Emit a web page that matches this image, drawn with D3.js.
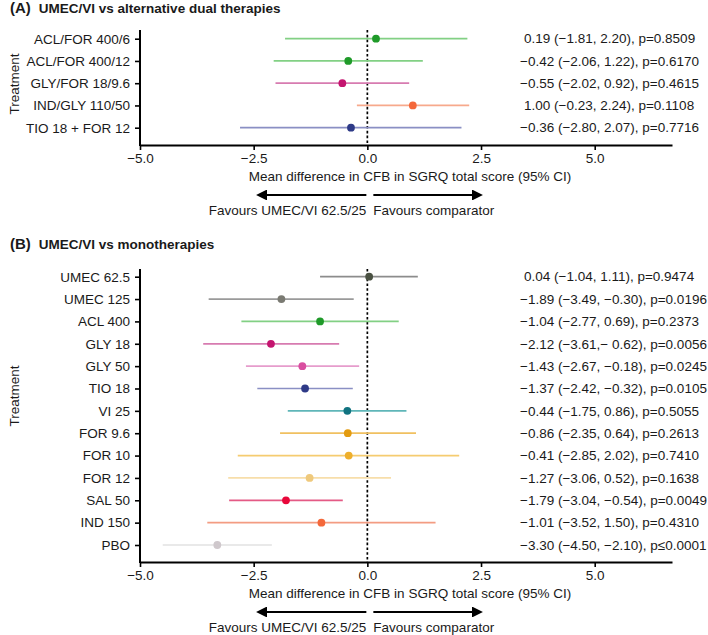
<!DOCTYPE html>
<html>
<head>
<meta charset="utf-8">
<script src="https://cdn.jsdelivr.net/npm/d3@7"></script>
<style>
    body { margin: 0; background: #fff; }
    svg text { font-family: "Liberation Sans", Arial, sans-serif; fill: #1a1a1a; }
</style>
</head>
<body>
<div class="forest"></div>
<script>
// panel A: UMEC/VI vs alternative dual therapies
const dualNames = ['ACL/FOR 400/6', 'ACL/FOR 400/12', 'GLY/FOR 18/9.6', 'IND/GLY 110/50', 'TIO 18 + FOR 12'];
const dualMean = [0.19, -0.42, -0.55, 1.00, -0.36];
const dualLow = [-1.81, -2.06, -2.02, -0.23, -2.80];
const dualHigh = [2.20, 1.22, 0.92, 2.24, 2.07];
const dualText = [
    '0.19 (\u22121.81, 2.20), p=0.8509',
    '\u22120.42 (\u22122.06, 1.22), p=0.6170',
    '\u22120.55 (\u22122.02, 0.92), p=0.4615',
    '1.00 (\u22120.23, 2.24), p=0.1108',
    '\u22120.36 (\u22122.80, 2.07), p=0.7716'
];

// panel B: UMEC/VI vs monotherapies
const monoNames = ['UMEC 62.5', 'UMEC 125', 'ACL 400', 'GLY 18', 'GLY 50', 'TIO 18', 'VI 25',
    'FOR 9.6', 'FOR 10', 'FOR 12', 'SAL 50', 'IND 150', 'PBO'];
const monoMean = [0.04, -1.89, -1.04, -2.12, -1.43, -1.37, -0.44, -0.43, -0.41, -1.27, -1.79, -1.01, -3.30];
const monoLow = [-1.04, -3.49, -2.77, -3.61, -2.67, -2.42, -1.75, -1.92, -2.85, -3.06, -3.04, -3.52, -4.50];
const monoHigh = [1.11, -0.30, 0.69, -0.62, -0.18, -0.32, 0.86, 1.07, 2.02, 0.52, -0.54, 1.50, -2.10];
const monoText = [
    '0.04 (\u22121.04, 1.11), p=0.9474',
    '\u22121.89 (\u22123.49, \u22120.30), p=0.0196',
    '\u22121.04 (\u22122.77, 0.69), p=0.2373',
    '\u22122.12 (\u22123.61,\u2212 0.62), p=0.0056',
    '\u22121.43 (\u22122.67, \u22120.18), p=0.0245',
    '\u22121.37 (\u22122.42, \u22120.32), p=0.0105',
    '\u22120.44 (\u22121.75, 0.86), p=0.5055',
    '\u22120.86 (\u22122.35, 0.64), p=0.2613',
    '\u22120.41 (\u22122.85, 2.02), p=0.7410',
    '\u22121.27 (\u22123.06, 0.52), p=0.1638',
    '\u22121.79 (\u22123.04, \u22120.54), p=0.0049',
    '\u22121.01 (\u22123.52, 1.50), p=0.4310',
    '\u22123.30 (\u22124.50, \u22122.10), p\u22640.0001'
];

const xTicks = [-5, -2.5, 0, 2.5, 5];

// colours (point, interval line)
const dualDot = ['#1f9a29', '#1f9a29', '#c4146f', '#f4683a', '#2e3a87'];
const dualLine = ['#82d084', '#82d084', '#d77bb0', '#f7a98c', '#8a8fc4'];
const monoDot = ['#4a5142', '#7a7a72', '#1f9a29', '#c4146f', '#d94ea0', '#2e3a87', '#117380',
    '#e39b0f', '#eeaf2c', '#efc97c', '#e8073a', '#f4683a', '#cfc8cc'];
const monoLine = ['#8c8c8c', '#9a9a9a', '#82d084', '#d77bb0', '#e69ccc', '#8a8fc4', '#5fb6b8',
    '#f0c060', '#f5cc70', '#f7deaa', '#e45a85', '#f39c82', '#e2e2e2'];

const width = 708;
const height = 635;
const fontSize = '13.5px';

const svg = d3.select('.forest')
    .append('svg')
    .attr('width', width)
    .attr('height', height);

// arrow head for the "favours" arrows
svg.append('defs')
    .append('marker')
    .attr('id', 'head')
    .attr('viewBox', '0 0 10 10')
    .attr('refX', 0)
    .attr('refY', 5)
    .attr('markerWidth', 5.2)
    .attr('markerHeight', 5.2)
    .attr('markerUnits', 'strokeWidth')
    .attr('orient', 'auto')
    .append('path')
    .attr('d', 'M0,0 L10,5 L0,10 Z')
    .attr('fill', '#000');

const x = d3.scaleLinear().domain([-5, 6.7]).range([140, 672]);

const drawPanel = (p) => {
    const g = svg.append('g');

    const rows = p.names.map((name, i) => ({
        name,
        mean: p.mean[i],
        low: p.low[i],
        high: p.high[i],
        text: p.text[i],
        dot: p.dot[i],
        line: p.line[i]
    }));

    const y = d3.scalePoint().domain(p.names).range([p.firstRow, p.lastRow]);

    // title
    const title = g.append('text')
        .attr('x', 10)
        .attr('y', p.titleY)
        .style('font-weight', 'bold');
    title.append('tspan').style('font-size', '15px').text(p.tag);
    title.append('tspan').attr('dx', 8).style('font-size', fontSize).text(p.title);

    // y axis
    const yAxis = g.append('g')
        .attr('transform', `translate(${x.range()[0]},0)`)
        .call(d3.axisLeft(y).tickSize(5).tickPadding(5));
    yAxis.select('.domain').remove();
    yAxis.selectAll('.tick line').attr('stroke', '#000').attr('stroke-width', 1.6);
    yAxis.selectAll('.tick text').style('font-size', fontSize).attr('fill', '#1a1a1a');
    g.append('line')
        .attr('x1', x.range()[0]).attr('x2', x.range()[0])
        .attr('y1', p.axisTop).attr('y2', p.axisBottom + 1)
        .attr('stroke', '#000').attr('stroke-width', 2);

    // x axis
    const xAxis = g.append('g')
        .attr('transform', `translate(0,${p.axisBottom})`)
        .call(d3.axisBottom(x).tickValues(xTicks).tickFormat(d3.format('.1f'))
            .tickSize(5).tickPadding(3).tickSizeOuter(0));
    xAxis.select('.domain').attr('stroke', '#000').attr('stroke-width', 2);
    xAxis.selectAll('.tick line').attr('stroke', '#000').attr('stroke-width', 1.6);
    xAxis.selectAll('.tick text').style('font-size', fontSize).attr('fill', '#1a1a1a');

    // y axis title
    g.append('text')
        .attr('transform', `translate(19,${p.treatY}) rotate(-90)`)
        .attr('text-anchor', 'middle')
        .style('font-size', fontSize)
        .text('Treatment');

    // reference line at zero
    g.append('line')
        .attr('x1', x(0)).attr('x2', x(0))
        .attr('y1', p.axisTop).attr('y2', p.axisBottom)
        .attr('stroke', '#000')
        .attr('stroke-width', 1.7)
        .attr('stroke-dasharray', '2.6,2.2');

    // confidence intervals
    g.selectAll('.ci')
        .data(rows)
        .join('line')
        .attr('class', 'ci')
        .attr('x1', d => x(d.low))
        .attr('x2', d => x(d.high))
        .attr('y1', d => y(d.name))
        .attr('y2', d => y(d.name))
        .attr('stroke', d => d.line)
        .attr('stroke-width', 1.7);

    // point estimates
    g.selectAll('.est')
        .data(rows)
        .join('circle')
        .attr('class', 'est')
        .attr('cx', d => x(d.mean))
        .attr('cy', d => y(d.name))
        .attr('r', 3.9)
        .attr('fill', d => d.dot);

    // estimate labels on the right
    g.selectAll('.lab')
        .data(rows)
        .join('text')
        .attr('class', 'lab')
        .attr('x', d => d.text.startsWith('\u2212') ? 520 : 524)
        .attr('y', d => y(d.name))
        .attr('dy', '0.35em')
        .style('font-size', fontSize)
        .text(d => d.text);

    // x axis title
    g.append('text')
        .attr('x', 410)
        .attr('y', p.axisBottom + 36)
        .attr('text-anchor', 'middle')
        .style('font-size', fontSize)
        .text('Mean difference in CFB in SGRQ total score (95% CI)');

    // favours arrows
    const arrowY = p.axisBottom + 50;
    g.append('line')
        .attr('x1', x(0) - 1).attr('x2', 267)
        .attr('y1', arrowY).attr('y2', arrowY)
        .attr('stroke', '#000').attr('stroke-width', 2.1)
        .attr('marker-end', 'url(#head)');
    g.append('line')
        .attr('x1', x(0) + 6).attr('x2', 472)
        .attr('y1', arrowY).attr('y2', arrowY)
        .attr('stroke', '#000').attr('stroke-width', 2.1)
        .attr('marker-end', 'url(#head)');

    g.append('text')
        .attr('x', x(0) - 1)
        .attr('y', p.axisBottom + 70)
        .attr('text-anchor', 'end')
        .style('font-size', fontSize)
        .text('Favours UMEC/VI 62.5/25');
    g.append('text')
        .attr('x', x(0) + 6)
        .attr('y', p.axisBottom + 70)
        .attr('text-anchor', 'start')
        .style('font-size', fontSize)
        .text('Favours comparator');
};

drawPanel({
    tag: '(A)', title: 'UMEC/VI vs alternative dual therapies', titleY: 13,
    names: dualNames, mean: dualMean, low: dualLow, high: dualHigh, text: dualText,
    dot: dualDot, line: dualLine,
    axisTop: 30, axisBottom: 145, firstRow: 38.7, lastRow: 127.7, treatY: 84
});

drawPanel({
    tag: '(B)', title: 'UMEC/VI vs monotherapies', titleY: 249,
    names: monoNames, mean: monoMean, low: monoLow, high: monoHigh, text: monoText,
    dot: monoDot, line: monoLine,
    axisTop: 269, axisBottom: 562, firstRow: 276.7, lastRow: 545, treatY: 396
});
</script>
</body>
</html>
